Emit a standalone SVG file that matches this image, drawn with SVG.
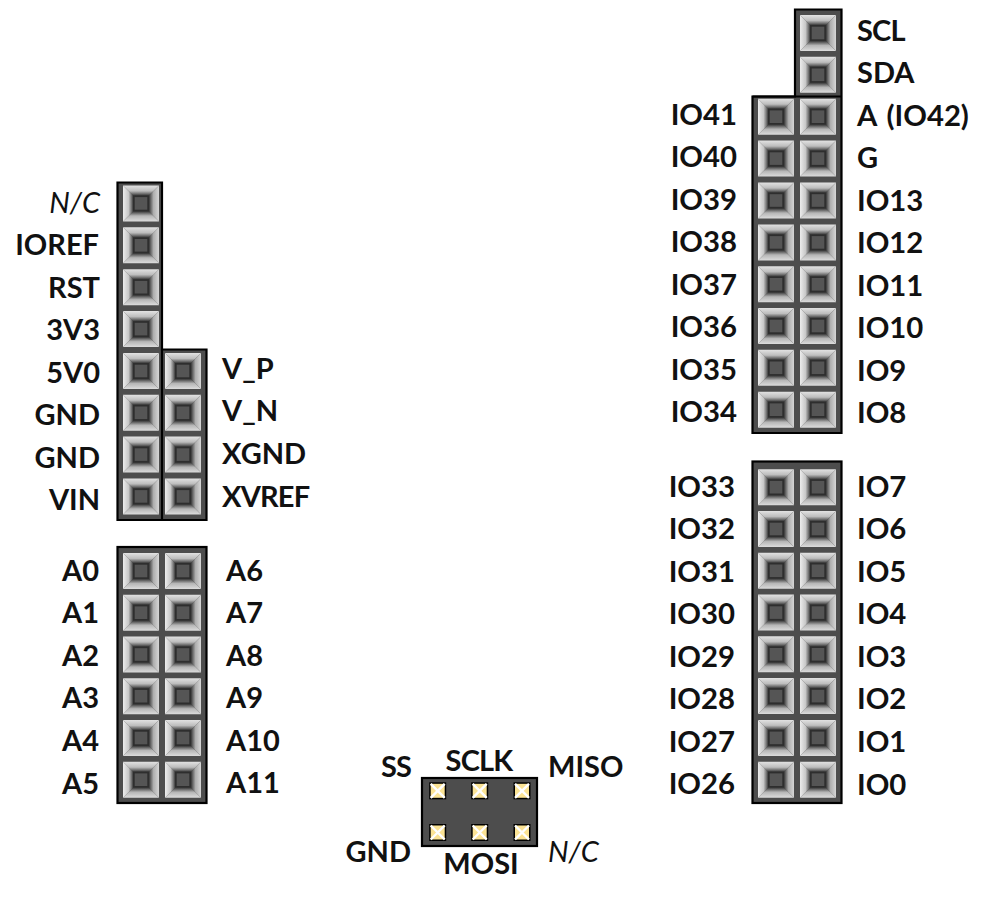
<svg xmlns="http://www.w3.org/2000/svg" width="988" height="900" viewBox="0 0 988 900">
<style>
.f{fill:#4d4d4d;stroke:#000;stroke-width:2.2}
.ln{fill:none;stroke:#000;stroke-width:2.2}
text{font-family:"Lato","Carlito","Liberation Sans",sans-serif;font-weight:700;font-size:29px;fill:#111;dominant-baseline:central}
.it{font-style:italic;font-weight:400}
.r{text-anchor:end}
.m{text-anchor:middle}
.d{font-size:29.3px}
.t{letter-spacing:-.8px}
</style>
<defs>
<linearGradient id="gt" gradientUnits="userSpaceOnUse" x1="0" y1="-18" x2="0" y2="-8"><stop offset="0" stop-color="#e2e2e2"/><stop offset=".55" stop-color="#bdbdbd"/><stop offset=".85" stop-color="#6a6a6a"/><stop offset="1" stop-color="#3a3a3a"/></linearGradient>
<linearGradient id="gb" gradientUnits="userSpaceOnUse" x1="0" y1="18" x2="0" y2="8"><stop offset="0" stop-color="#dcdcdc"/><stop offset=".55" stop-color="#b6b6b6"/><stop offset=".85" stop-color="#646464"/><stop offset="1" stop-color="#383838"/></linearGradient>
<linearGradient id="gl" gradientUnits="userSpaceOnUse" x1="-18" y1="0" x2="-8" y2="0"><stop offset="0" stop-color="#ececec"/><stop offset=".55" stop-color="#c8c8c8"/><stop offset=".85" stop-color="#727272"/><stop offset="1" stop-color="#3e3e3e"/></linearGradient>
<linearGradient id="gr" gradientUnits="userSpaceOnUse" x1="18" y1="0" x2="8" y2="0"><stop offset="0" stop-color="#d6d6d6"/><stop offset=".55" stop-color="#aeaeae"/><stop offset=".85" stop-color="#606060"/><stop offset="1" stop-color="#363636"/></linearGradient>
<g id="pin">
<polygon points="-18,-18 18,-18 8,-8 -8,-8" fill="url(#gt)"/>
<polygon points="-18,18 18,18 8,8 -8,8" fill="url(#gb)"/>
<polygon points="-18,-18 -18,18 -8,8 -8,-8" fill="url(#gl)"/>
<polygon points="18,-18 18,18 8,8 8,-8" fill="url(#gr)"/>
<rect x="-8" y="-8" width="16" height="16" fill="#2e2e2e"/>
<rect x="-6.300" y="-6.300" width="12.600" height="12.600" fill="#555"/>
</g>
<g id="spi">
<rect x="-8.500" y="-8.500" width="17" height="17" fill="#000"/>
<rect x="-7" y="-7" width="14" height="14" fill="#fbe394"/>
<path d="M-7,-7L7,7M7,-7L-7,7" stroke="#fff" stroke-width="2.400"/>
</g>
</defs>
<rect width="988" height="900" fill="#fff"/>
<g id="header-power">
<path class="f" d="M117.500,182.500H162V349.500H206.500V520H117.500Z"/>
<path class="ln" d="M162,349.500V520"/>
<use href="#pin" x="141" y="203.400"/><use href="#pin" x="141" y="245.300"/><use href="#pin" x="141" y="287.200"/><use href="#pin" x="141" y="329.100"/><use href="#pin" x="141" y="371"/><use href="#pin" x="141" y="412.800"/><use href="#pin" x="141" y="454.600"/><use href="#pin" x="141" y="496.400"/>
<use href="#pin" x="183" y="371"/><use href="#pin" x="183" y="412.800"/><use href="#pin" x="183" y="454.600"/><use href="#pin" x="183" y="496.400"/>
<text class="r it" x="100" y="201">N/C</text><text class="r" x="99" y="243">IOREF</text><text class="r" x="100" y="286">RST</text><text class="r" x="100" y="328">3V3</text><text class="r" x="100" y="371">5V0</text><text class="r" x="100" y="413">GND</text><text class="r" x="100" y="456">GND</text><text class="r" x="100" y="498">VIN</text>
<text x="222" y="367">V_P</text><text x="222" y="409">V_N</text><text x="222" y="452">XGND</text><text class="t" x="222" y="495">XVREF</text>
</g>
<g id="header-analog">
<rect class="f" x="117.500" y="547" width="89" height="256"/>
<use href="#pin" x="141" y="571"/><use href="#pin" x="183" y="571"/><use href="#pin" x="141" y="612.700"/><use href="#pin" x="183" y="612.700"/><use href="#pin" x="141" y="654.500"/><use href="#pin" x="183" y="654.500"/><use href="#pin" x="141" y="696.200"/><use href="#pin" x="183" y="696.200"/><use href="#pin" x="141" y="738"/><use href="#pin" x="183" y="738"/><use href="#pin" x="141" y="779.700"/><use href="#pin" x="183" y="779.700"/>
<text class="r" x="99" y="569">A0</text><text class="r" x="99" y="611">A1</text><text class="r" x="99" y="654">A2</text><text class="r" x="99" y="696">A3</text><text class="r" x="99" y="739">A4</text><text class="r" x="99" y="782">A5</text>
<text x="226" y="569">A6</text><text x="226" y="611">A7</text><text x="226" y="654">A8</text><text x="226" y="696">A9</text><text x="226" y="739">A10</text><text x="226" y="781">A11</text>
</g>
<g id="header-digital-high">
<path class="f" d="M795,9.500H841.500V433H752.500V96.500H795Z"/>
<path class="ln" d="M752.500,96.500H841.500"/>
<use href="#pin" x="818" y="33"/><use href="#pin" x="818" y="74.800"/>
<use href="#pin" x="776" y="116.700"/><use href="#pin" x="818" y="116.700"/><use href="#pin" x="776" y="158.600"/><use href="#pin" x="818" y="158.600"/><use href="#pin" x="776" y="200.500"/><use href="#pin" x="818" y="200.500"/><use href="#pin" x="776" y="242.400"/><use href="#pin" x="818" y="242.400"/><use href="#pin" x="776" y="284.300"/><use href="#pin" x="818" y="284.300"/><use href="#pin" x="776" y="326"/><use href="#pin" x="818" y="326"/><use href="#pin" x="776" y="367.800"/><use href="#pin" x="818" y="367.800"/><use href="#pin" x="776" y="409.700"/><use href="#pin" x="818" y="409.700"/>
<text class="t" x="857" y="29">SCL</text><text x="857" y="71">SDA</text><text class="d" x="857" y="114" word-spacing="3">A (IO42)</text><text x="857" y="156">G</text><text class="d" x="857" y="199">IO13</text><text class="d" x="857" y="241">IO12</text><text class="d" x="857" y="284">IO11</text><text class="d" x="857" y="326">IO10</text><text class="d" x="857" y="369">IO9</text><text class="d" x="857" y="411">IO8</text>
<text class="r d" x="737" y="113">IO41</text><text class="r d" x="737" y="155">IO40</text><text class="r d" x="737" y="198">IO39</text><text class="r d" x="737" y="240">IO38</text><text class="r d" x="737" y="283">IO37</text><text class="r d" x="737" y="325">IO36</text><text class="r d" x="737" y="368">IO35</text><text class="r d" x="737" y="410">IO34</text>
</g>
<g id="header-digital-low">
<rect class="f" x="752.500" y="461.500" width="89" height="341.500"/>
<use href="#pin" x="776" y="487.200"/><use href="#pin" x="818" y="487.200"/><use href="#pin" x="776" y="529"/><use href="#pin" x="818" y="529"/><use href="#pin" x="776" y="570.800"/><use href="#pin" x="818" y="570.800"/><use href="#pin" x="776" y="612.600"/><use href="#pin" x="818" y="612.600"/><use href="#pin" x="776" y="654.300"/><use href="#pin" x="818" y="654.300"/><use href="#pin" x="776" y="696.100"/><use href="#pin" x="818" y="696.100"/><use href="#pin" x="776" y="737.900"/><use href="#pin" x="818" y="737.900"/><use href="#pin" x="776" y="779.700"/><use href="#pin" x="818" y="779.700"/>
<text class="r d" x="735" y="485">IO33</text><text class="r d" x="735" y="527">IO32</text><text class="r d" x="735" y="570">IO31</text><text class="r d" x="735" y="612">IO30</text><text class="r d" x="735" y="655">IO29</text><text class="r d" x="735" y="697">IO28</text><text class="r d" x="735" y="740">IO27</text><text class="r d" x="735" y="782">IO26</text>
<text class="d" x="857" y="485">IO7</text><text class="d" x="857" y="527">IO6</text><text class="d" x="857" y="570">IO5</text><text class="d" x="857" y="612">IO4</text><text class="d" x="857" y="655">IO3</text><text class="d" x="857" y="697">IO2</text><text class="d" x="857" y="740">IO1</text><text class="d" x="857" y="783">IO0</text>
</g>
<g id="header-spi">
<rect class="f" x="422" y="778" width="115" height="68"/>
<use href="#spi" x="437.700" y="790.800"/><use href="#spi" x="479.700" y="790.800"/><use href="#spi" x="522" y="790.800"/><use href="#spi" x="437.700" y="832.500"/><use href="#spi" x="479.700" y="832.500"/><use href="#spi" x="522" y="832.500"/>
<text class="t" x="381" y="765">SS</text><text class="m t" x="479" y="759">SCLK</text><text x="548" y="765">MISO</text><text class="r" x="411" y="850">GND</text><text class="m" x="481" y="862">MOSI</text><text class="it" x="548" y="850">N/C</text>
</g>
</svg>
